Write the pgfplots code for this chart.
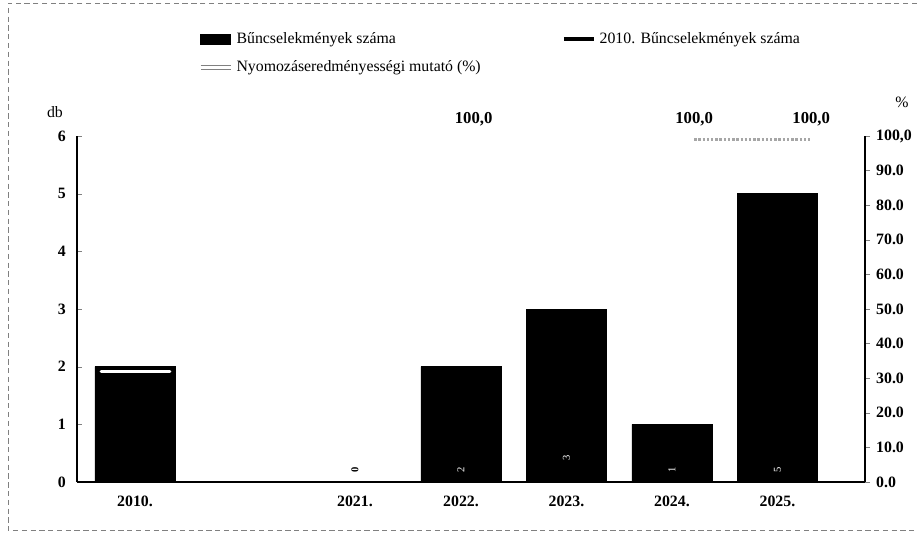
\documentclass[border=0pt]{standalone}
\usepackage{pgfplots}
\pgfplotsset{compat=1.18}
\usepackage{fontspec}
\setmainfont{Liberation Serif}

\begin{document}
\begin{tikzpicture}
\path[use as bounding box] (0,0) rectangle (18.34cm,10.76cm);
\draw[gray, densely dashed, line width=0.3pt] (18.34,10.70) -- (0.16,10.70) -- (0.16,0.16) -- (18.34,0.16);

% left axis: number of crimes (bars)
\begin{axis}[
  at={(1.54cm,1.12cm)}, anchor=south west,
  scale only axis, width=15.76cm, height=6.92cm,
  xmin=-0.55, xmax=6.92, ymin=0, ymax=6,
  axis x line=bottom, axis y line=left,
  axis line style={-, line width=0.6pt},
  xtick={0,2.085,3.09,4.09,5.09,6.09},
  xticklabels={2010.,2021.,2022.,2023.,2024.,2025.},
  x tick style={draw=none},
  ytick={0,...,6}, yticklabels={0,1,2,3,4,5,6},
  tick align=inside, major tick length=0.1cm,
  ticklabel style={font=\bfseries\fontsize{9}{11}\selectfont},
  xticklabel style={yshift=-0.15cm},
  yticklabel style={xshift=-0.1cm},
  ylabel={db},
  ylabel style={rotate=-90, at={(rel axis cs:-0.028,1.069)}, anchor=center, font=\fontsize{9}{11}\selectfont},
  legend columns=2,
  legend cell align=left,
  legend style={at={(rel axis cs:0.147,1.321)}, anchor=north west, draw=none, fill=none,
    font=\fontsize{9}{11}\selectfont,
    /tikz/every even column/.append style={column sep=1.55cm}, row sep=0.15cm},
]
\addlegendimage{area legend, fill=black, draw=black}
\addlegendimage{black, line width=2.5pt}
\addlegendimage{draw=gray, double=white, double distance=1.6pt, line width=0.5pt}
\legend{Bűncselekmények száma, 2010. Bűncselekmények száma, Nyomozáseredményességi mutató (\%)}

\addplot[ybar, bar width=0.76, fill=black, draw=black, forget plot]
  coordinates {(0,2) (2.085,0) (3.09,2) (4.09,3) (5.09,1) (6.09,5)};

% 2010 level
\addplot[white, line width=1.8pt, line cap=round, forget plot]
  coordinates {(-0.32,1.91) (0.33,1.91)};

% value labels in the bars
\addplot[draw=none, forget plot, nodes near coords, point meta=explicit symbolic,
  nodes near coords style={white, rotate=90, anchor=center, font=\fontsize{6}{7}\selectfont}]
  coordinates {(3.09,0.21)[2] (4.09,0.42)[3] (5.09,0.21)[1] (6.09,0.21)[5]};
\addplot[draw=none, forget plot, nodes near coords, point meta=explicit symbolic,
  nodes near coords style={black, rotate=90, anchor=center, font=\bfseries\fontsize{6}{7}\selectfont}]
  coordinates {(2.085,0.21)[0]};
\end{axis}

% right axis: percentage
\begin{axis}[
  at={(1.54cm,1.12cm)}, anchor=south west,
  scale only axis, width=15.76cm, height=6.92cm,
  xmin=-0.55, xmax=6.92, ymin=0, ymax=100,
  axis x line=none, axis y line=right,
  axis line style={-, line width=0.6pt},
  ytick={0,10,...,100},
  yticklabels={0.0,10.0,20.0,30.0,40.0,50.0,60.0,70.0,80.0,90.0,{100,0}},
  tick align=outside, major tick length=0.1cm,
  ticklabel style={font=\bfseries\fontsize{9}{11}\selectfont},
  ylabel={\%},
  ylabel style={rotate=-90, at={(rel axis cs:1.047,1.098)}, anchor=center, font=\fontsize{9}{11}\selectfont},
  unbounded coords=jump,
]
\addplot[draw=gray!70, line width=1.4pt, densely dotted,
  nodes near coords, point meta=explicit symbolic,
  nodes near coords style={black, font=\bfseries\fontsize{9.5}{11}\selectfont, yshift=0.12cm}]
  coordinates {(3.21,99)[100,0] (4.2,nan)[x] (5.3,99)[100,0] (6.41,99)[100,0]};
\end{axis}
\end{tikzpicture}
\end{document}
